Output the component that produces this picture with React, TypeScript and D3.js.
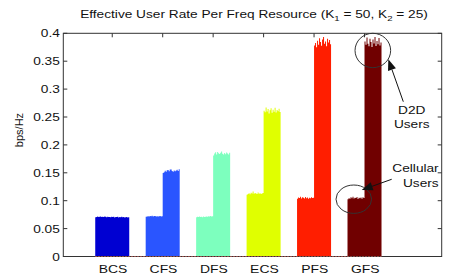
import React from "react";
import * as d3 from "d3";

const categories = ["BCS", "CFS", "DFS", "ECS", "PFS", "GFS"];
const colors = ["#0000d2", "#2a55ff", "#7dffbe", "#e0ff00", "#ff1e00", "#700000"];

// per-user rates (bps/Hz): cellular users (left half) and D2D users (right half)
const bcsCell = [0.0705,0.071,0.0715,0.0708,0.0712,0.0718,0.0709,0.0713,0.0706,0.0716,0.0711,0.0704,0.0714,0.0708,0.071,0.0703,0.0712];
const bcsD2D = [0.0707,0.0713,0.0701,0.071,0.0706,0.0712,0.0699,0.0708,0.0704,0.0711,0.0702,0.0707,0.0698,0.0705,0.0709,0.07,0.0703];
const cfsCell = [0.0712,0.0718,0.0722,0.0715,0.0726,0.072,0.0731,0.0717,0.0724,0.0728,0.0719,0.0723,0.0716,0.0721,0.0725,0.0718,0.0722];
const cfsD2D = [0.1495,0.1512,0.1538,0.1521,0.1547,0.1552,0.1529,0.1558,0.1561,0.1534,0.1519,0.1543,0.1527,0.1541,0.1555,0.1532,0.1563];
const dfsCell = [0.0702,0.0711,0.0706,0.0715,0.0709,0.0713,0.0704,0.0716,0.0708,0.0712,0.0719,0.0714,0.0721,0.0717,0.0725,0.0718,0.0723];
const dfsD2D = [0.1812,0.1845,0.1868,0.1829,0.1872,0.1851,0.1836,0.1859,0.1881,0.1842,0.1826,0.1855,0.1833,0.1864,0.1847,0.1828,0.1858];
const ecsCell = [0.1108,0.1121,0.1135,0.1117,0.1142,0.1128,0.1163,0.1124,0.1139,0.1131,0.1119,0.1147,0.1126,0.1134,0.1122,0.1129,0.1137];
const ecsD2D = [0.2612,0.2585,0.2671,0.2598,0.2643,0.2562,0.2619,0.2657,0.2574,0.2632,0.2595,0.2668,0.2581,0.2626,0.2603,0.2649,0.2588];
const pfsCell = [0.1035,0.1058,0.1049,0.1072,0.1041,0.1063,0.1054,0.1038,0.1067,0.1045,0.1059,0.1033,0.1051,0.1042,0.1061,0.1047,0.1055];
const pfsD2D = [0.3782,0.3825,0.3751,0.3868,0.3797,0.3912,0.3843,0.3776,0.3889,0.3935,0.3812,0.3854,0.3768,0.3901,0.3836,0.3879,0.3804];
const gfsCell = [0.1028,0.1046,0.1035,0.1061,0.1042,0.1071,0.1038,0.1055,0.1049,0.1066,0.1031,0.1052,0.1044,0.1059,0.1037,0.1063,0.1048];
const gfsD2D = [0.3851,0.3795,0.3924,0.3812,0.3768,0.3901,0.3842,0.3756,0.3887,0.3819,0.3932,0.3774,0.3863,0.3805,0.3918,0.3781,0.3837];

const cellular = [bcsCell, cfsCell, dfsCell, ecsCell, pfsCell, gfsCell];
const d2d = [bcsD2D, cfsD2D, dfsD2D, ecsD2D, pfsD2D, gfsD2D];

const yTicks = [0, 0.05, 0.1, 0.15, 0.2, 0.25, 0.3, 0.35, 0.4];
const yTickLabels = ["0", "0.05", "0.1", "0.15", "0.2", "0.25", "0.3", "0.35", "0.4"];

const FONT = "'Liberation Sans', Arial, Helvetica, sans-serif";
const AX = "#333";
const HALF = 0.337;
const SX = 1.2;

type Pt = { x: number; v: number };

export default function App() {
  const W = 450, H = 277;
  const x = d3.scaleLinear().domain([0.03, 7.53]).range([63.3, 441.7]);
  const y = d3.scaleLinear().domain([0, 0.4]).range([256.5, 33.3]);
  const [x0, x1] = x.range();
  const [yb, yt] = y.range();

  const area = d3
    .area<Pt>()
    .x((d) => x(d.x))
    .y0(y(0))
    .y1((d) => y(d.v))
    .curve(d3.curveStepAfter);

  const barPaths = categories.map((c, i) => {
    const center = i + 1;
    const vals = [...cellular[i], ...d2d[i]];
    const step = (2 * HALF) / vals.length;
    const pts: Pt[] = vals.map((v, k) => ({ x: center - HALF + k * step, v }));
    pts.push({ x: center + HALF, v: vals[vals.length - 1] });
    return <path key={`bar-${c}`} d={area(pts) || ""} fill={colors[i]} />;
  });

  const stretchText = (tx: number, ty: number, txt: React.ReactNode, anchor: string, size: number, key?: string) => (
    <text key={key} transform={`translate(${tx},${ty}) scale(${SX},1)`} textAnchor={anchor} fontSize={size} fontFamily={FONT} fill="#111">
      {txt}
    </text>
  );

  const arrow = (fx: number, fy: number, tx: number, ty: number, key: string) => {
    const ax = x(fx), ay = y(fy), bx = x(tx), by = y(ty);
    const dx = bx - ax, dy = by - ay;
    const L = Math.hypot(dx, dy);
    const ux = dx / L, uy = dy / L;
    const hl = 11, hw = 4.2;
    const baseX = bx - ux * hl, baseY = by - uy * hl;
    const pts = [
      [bx, by],
      [baseX - uy * hw, baseY + ux * hw],
      [baseX + uy * hw, baseY - ux * hw],
    ];
    return (
      <g key={key}>
        <line x1={ax} y1={ay} x2={baseX} y2={baseY} stroke="#111" strokeWidth={1} />
        <polygon points={pts.map((p) => p.join(",")).join(" ")} fill="#111" />
      </g>
    );
  };

  const ellipse = (cx: number, cy: number, rx: number, ry: number, key: string) => (
    <ellipse key={key} cx={x(cx)} cy={y(cy)} rx={x(cx + rx) - x(cx)} ry={y(cy - ry) - y(cy)} fill="none" stroke="#333" strokeWidth={1} />
  );

  return (
    <svg width={W} height={H} style={{ position: "absolute", left: 0, top: 0, background: "#fff" }}>
      <rect x={0} y={0} width={W} height={H} fill="#fff" />
      {yTicks.map((t) => (
        <g key={`yt${t}`}>
          <line x1={x0} x2={x0 + 4} y1={y(t)} y2={y(t)} stroke={AX} />
          <line x1={x1 - 4} x2={x1} y1={y(t)} y2={y(t)} stroke={AX} />
        </g>
      ))}
      {categories.map((c, i) => (
        <g key={`xt${c}`}>
          <line x1={x(i + 1)} x2={x(i + 1)} y1={yt} y2={yt + 4} stroke={AX} />
          <line x1={x(i + 1)} x2={x(i + 1)} y1={yb} y2={yb - 4} stroke={AX} />
        </g>
      ))}
      {barPaths}
      <rect x={x0} y={yt} width={x1 - x0} height={yb - yt} fill="none" stroke={AX} strokeWidth={1} />
      <line x1={x(1 - HALF)} x2={x(6 + HALF)} y1={y(0)} y2={y(0)} stroke="#d0605a" strokeWidth={1} strokeDasharray="1.5,1.5" opacity={0.8} />
      {yTicks.map((t, i) => stretchText(x0 - 3.5, y(t) + 4, yTickLabels[i], "end", 11.4, `yl${t}`))}
      {categories.map((c, i) => stretchText(x(i + 1) + 0.8, 272.5, c, "middle", 11.6, `xl${c}`))}
      <text transform={`translate(22.7,130) rotate(-90)`} textAnchor="middle" fontSize={11} fontFamily={FONT} fill="#111">
        bps/Hz
      </text>
      <text transform={`translate(254,18.3) scale(${SX},1)`} textAnchor="middle" fontSize={11.4} fontFamily={FONT} fill="#111">
        Effective User Rate Per Freq Resource (K
        <tspan dy={3} fontSize={8}>1</tspan>
        <tspan dy={-3}> = 50, K</tspan>
        <tspan dy={3} fontSize={8}>2</tspan>
        <tspan dy={-3}> = 25)</tspan>
      </text>
      {ellipse(6.165, 0.3692, 0.353, 0.0308, "e1")}
      {ellipse(5.788, 0.1027, 0.353, 0.0254, "e2")}
      {arrow(6.769, 0.2774, 6.472, 0.3534, "a1")}
      {arrow(6.539, 0.1384, 5.945, 0.1192, "a2")}
      {stretchText(x(6.936), y(0.2554), "D2D", "middle", 11.4, "t1")}
      {stretchText(x(6.936), y(0.2303), "Users", "middle", 11.4, "t2")}
      {stretchText(x(7.011), y(0.152), "Cellular", "middle", 11.4, "t3")}
      {stretchText(x(7.116), y(0.125), "Users", "middle", 11.4, "t4")}
    </svg>
  );
}
